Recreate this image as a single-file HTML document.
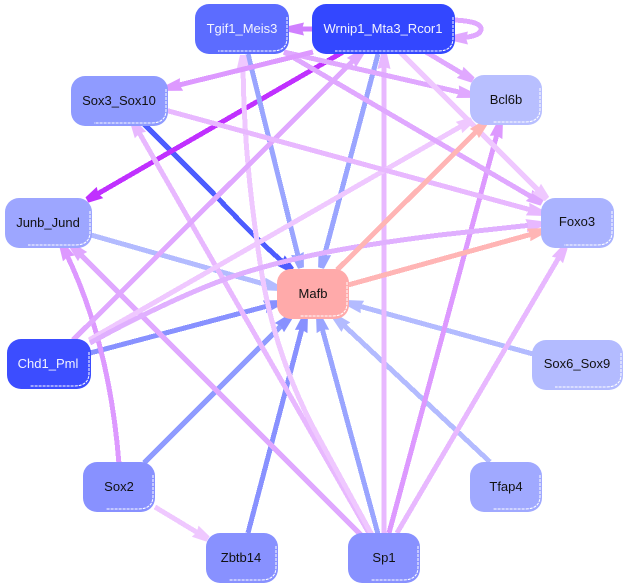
<!DOCTYPE html>
<html><head><meta charset="utf-8"><style>
html,body{margin:0;padding:0;background:#fff}
svg{display:block}
text{font-family:"Liberation Sans",sans-serif;font-size:13px;text-anchor:middle;fill:#111}
.l{fill:#f2f3ff}
.e{fill:none;stroke-width:5}
.w{fill:none;stroke:#fff;stroke-width:1;stroke-dasharray:3 1}
</style></head><body>
<svg width="627" height="587" viewBox="0 0 627 587" xmlns="http://www.w3.org/2000/svg">
<defs>
<marker id="a1" markerUnits="userSpaceOnUse" markerWidth="16" markerHeight="14" refX="15" refY="7" orient="auto"><path d="M0 .5L15 4V10L0 13.5L2 7Z" fill="#dd99ff"/></marker>
<marker id="a2" markerUnits="userSpaceOnUse" markerWidth="16" markerHeight="14" refX="15" refY="7" orient="auto"><path d="M0 .5L15 4V10L0 13.5L2 7Z" fill="#e0a8ff"/></marker>
<marker id="a3" markerUnits="userSpaceOnUse" markerWidth="16" markerHeight="14" refX="15" refY="7" orient="auto"><path d="M0 .5L15 4V10L0 13.5L2 7Z" fill="#e8b8ff"/></marker>
<marker id="a4" markerUnits="userSpaceOnUse" markerWidth="16" markerHeight="14" refX="15" refY="7" orient="auto"><path d="M0 .5L15 4V10L0 13.5L2 7Z" fill="#efc8ff"/></marker>
<marker id="a5" markerUnits="userSpaceOnUse" markerWidth="16" markerHeight="14" refX="15" refY="7" orient="auto"><path d="M0 .5L15 4V10L0 13.5L2 7Z" fill="#c030ff"/></marker>
<marker id="a6" markerUnits="userSpaceOnUse" markerWidth="16" markerHeight="14" refX="15" refY="7" orient="auto"><path d="M0 .5L15 4V10L0 13.5L2 7Z" fill="#d080ff"/></marker>
<marker id="b1" markerUnits="userSpaceOnUse" markerWidth="16" markerHeight="14" refX="15" refY="7" orient="auto"><path d="M0 .5L15 4V10L0 13.5L2 7Z" fill="#4d5cff"/></marker>
<marker id="b2" markerUnits="userSpaceOnUse" markerWidth="16" markerHeight="14" refX="15" refY="7" orient="auto"><path d="M0 .5L15 4V10L0 13.5L2 7Z" fill="#8891ff"/></marker>
<marker id="b3" markerUnits="userSpaceOnUse" markerWidth="16" markerHeight="14" refX="15" refY="7" orient="auto"><path d="M0 .5L15 4V10L0 13.5L2 7Z" fill="#9aa5ff"/></marker>
<marker id="b4" markerUnits="userSpaceOnUse" markerWidth="16" markerHeight="14" refX="15" refY="7" orient="auto"><path d="M0 .5L15 4V10L0 13.5L2 7Z" fill="#b3bbff"/></marker>
<marker id="r1" markerUnits="userSpaceOnUse" markerWidth="16" markerHeight="14" refX="15" refY="7" orient="auto"><path d="M0 .5L15 4V10L0 13.5L2 7Z" fill="#ffb5b5"/></marker>
</defs>

<!-- edges -->
<g shape-rendering="crispEdges">
<path class="e" stroke="#b3bbff" marker-end="url(#b4)" d="M91 235L278 288"/>
<path class="e" stroke="#4d5cff" marker-end="url(#b1)" d="M143 123L213 193C235 216 260 243 292 270"/>
<path class="e" stroke="#c030ff" marker-end="url(#a5)" d="M343 52L87 200"/>
<path class="e" stroke="#8891ff" marker-end="url(#b2)" d="M90 353L279 303"/>
<path class="e" stroke="#8f9bff" marker-end="url(#b2)" d="M144 463L290 317"/>
<path class="e" stroke="#8891ff" marker-end="url(#b2)" d="M248 533L305 317"/>
<path class="e" stroke="#9aa5ff" marker-end="url(#b3)" d="M378 534L319 317"/>
<path class="e" stroke="#b3bbff" marker-end="url(#b4)" d="M490 462L335 317"/>
<path class="e" stroke="#b3bbff" marker-end="url(#b4)" d="M533 354L348 303"/>
<path class="e" stroke="#9aa5ff" marker-end="url(#b3)" d="M248 54L301 268"/>
<path class="e" stroke="#9aa5ff" marker-end="url(#b3)" d="M378 54L321 268"/>
<path class="e" stroke="#e8b8ff" marker-end="url(#a3)" d="M370 535L133 122"/>
<path class="e" stroke="#efc8ff" marker-end="url(#a4)" d="M372 535L320 440C295 395 273 340 262 275C250 200 243 130 243 55"/>
<path class="e" stroke="#e0a8ff" marker-end="url(#a2)" d="M362 536L72 246"/>
<path class="e" stroke="#e8b8ff" marker-end="url(#a3)" d="M384 533V54"/>
<path class="e" stroke="#dd99ff" marker-end="url(#a1)" d="M389 533L500 123"/>
<path class="e" stroke="#e8b8ff" marker-end="url(#a3)" d="M397 533L565 247"/>
<path class="e" stroke="#dd99ff" marker-end="url(#a1)" d="M119 464C114 400 100 320 62 245"/>
<path class="e" stroke="#efc8ff" marker-end="url(#a4)" d="M155 507L208 539"/>
<path class="e" stroke="#e0a8ff" marker-end="url(#a2)" d="M73 340L362 52"/>
<path class="e" stroke="#efc8ff" marker-end="url(#a4)" d="M89 340L472 120"/>
<path class="e" stroke="#e0b0ff" marker-end="url(#a3)" d="M90 343C140 315 200 287 240 274C300 255 360 245 440 235L541 224"/>
<path class="e" stroke="#e8b8ff" marker-end="url(#a3)" d="M165 110L542 213"/>
<path class="e" stroke="#e0a8ff" marker-end="url(#a2)" d="M284 52L472 95"/>
<path class="e" stroke="#e0a8ff" marker-end="url(#a2)" d="M284 52L542 203"/>
<path class="e" stroke="#dd99ff" marker-end="url(#a1)" d="M313 52L167 88"/>
<path class="e" stroke="#efc8ff" marker-end="url(#a4)" d="M400 52L547 199"/>
<path class="e" stroke="#e0a8ff" marker-end="url(#a2)" d="M426 52L473 80"/>
<path class="e" stroke="#d080ff" marker-end="url(#a6)" d="M313 29H289"/>
<path class="e" stroke="#e0a8ff" marker-end="url(#a2)" d="M455 20C470 21 481 23 481 29C481 35 470 38 453 38"/>
<path class="e" stroke="#ffb5b5" marker-end="url(#r1)" d="M337 270L485 123"/>
<path class="e" stroke="#ffb5b5" marker-end="url(#r1)" d="M348 285L543 231"/>
</g>

<!-- nodes -->
<rect x="195" y="4" width="94" height="50" rx="14" fill="#5c6cff"/><path class="w" d="M287 17V38Q287 51 272 51H218"/><text class="l" x="242" y="33">Tgif1_Meis3</text>
<rect x="312" y="4" width="143" height="50" rx="14" fill="#3347ff"/><path class="w" d="M453 17V38Q453 51 438 51H335"/><text class="l" x="383" y="33">Wrnip1_Mta3_Rcor1</text>
<rect x="71" y="76" width="97" height="50" rx="14" fill="#8f9bff"/><path class="w" d="M166 89V110Q166 123 151 123H94"/><text x="119" y="105">Sox3_Sox10</text>
<rect x="470" y="75" width="72" height="50" rx="14" fill="#b8bfff"/><path class="w" d="M540 88V109Q540 122 525 122H493"/><text x="506" y="104">Bcl6b</text>
<rect x="5" y="198" width="87" height="50" rx="14" fill="#9da6ff"/><path class="w" d="M90 211V232Q90 245 75 245H28"/><text x="48" y="227">Junb_Jund</text>
<rect x="541" y="198" width="73" height="50" rx="14" fill="#aab3ff"/><path class="w" d="M612 211V232Q612 245 597 245H564"/><text x="577" y="226">Foxo3</text>
<rect x="277" y="269" width="72" height="50" rx="14" fill="#ffaaaa"/><path class="w" d="M347 282V303Q347 316 332 316H300"/><text x="313" y="298">Mafb</text>
<rect x="7" y="339" width="84" height="50" rx="14" fill="#3c4dff"/><path class="w" d="M89 352V373Q89 386 74 386H30"/><text class="l" x="48" y="368">Chd1_Pml</text>
<rect x="532" y="340" width="91" height="50" rx="14" fill="#b3bbff"/><path class="w" d="M621 353V374Q621 387 606 387H555"/><text x="577" y="368">Sox6_Sox9</text>
<rect x="83" y="462" width="72" height="50" rx="14" fill="#8891ff"/><path class="w" d="M153 475V496Q153 509 138 509H106"/><text x="119" y="491">Sox2</text>
<rect x="470" y="462" width="72" height="50" rx="14" fill="#a0a9ff"/><path class="w" d="M540 475V496Q540 509 525 509H493"/><text x="506" y="491">Tfap4</text>
<rect x="206" y="533" width="72" height="50" rx="14" fill="#8891ff"/><path class="w" d="M276 546V567Q276 580 261 580H229"/><text x="241" y="562">Zbtb14</text>
<rect x="348" y="533" width="72" height="50" rx="14" fill="#8891ff"/><path class="w" d="M418 546V567Q418 580 403 580H371"/><text x="384" y="562">Sp1</text>
</svg>
</body></html>
